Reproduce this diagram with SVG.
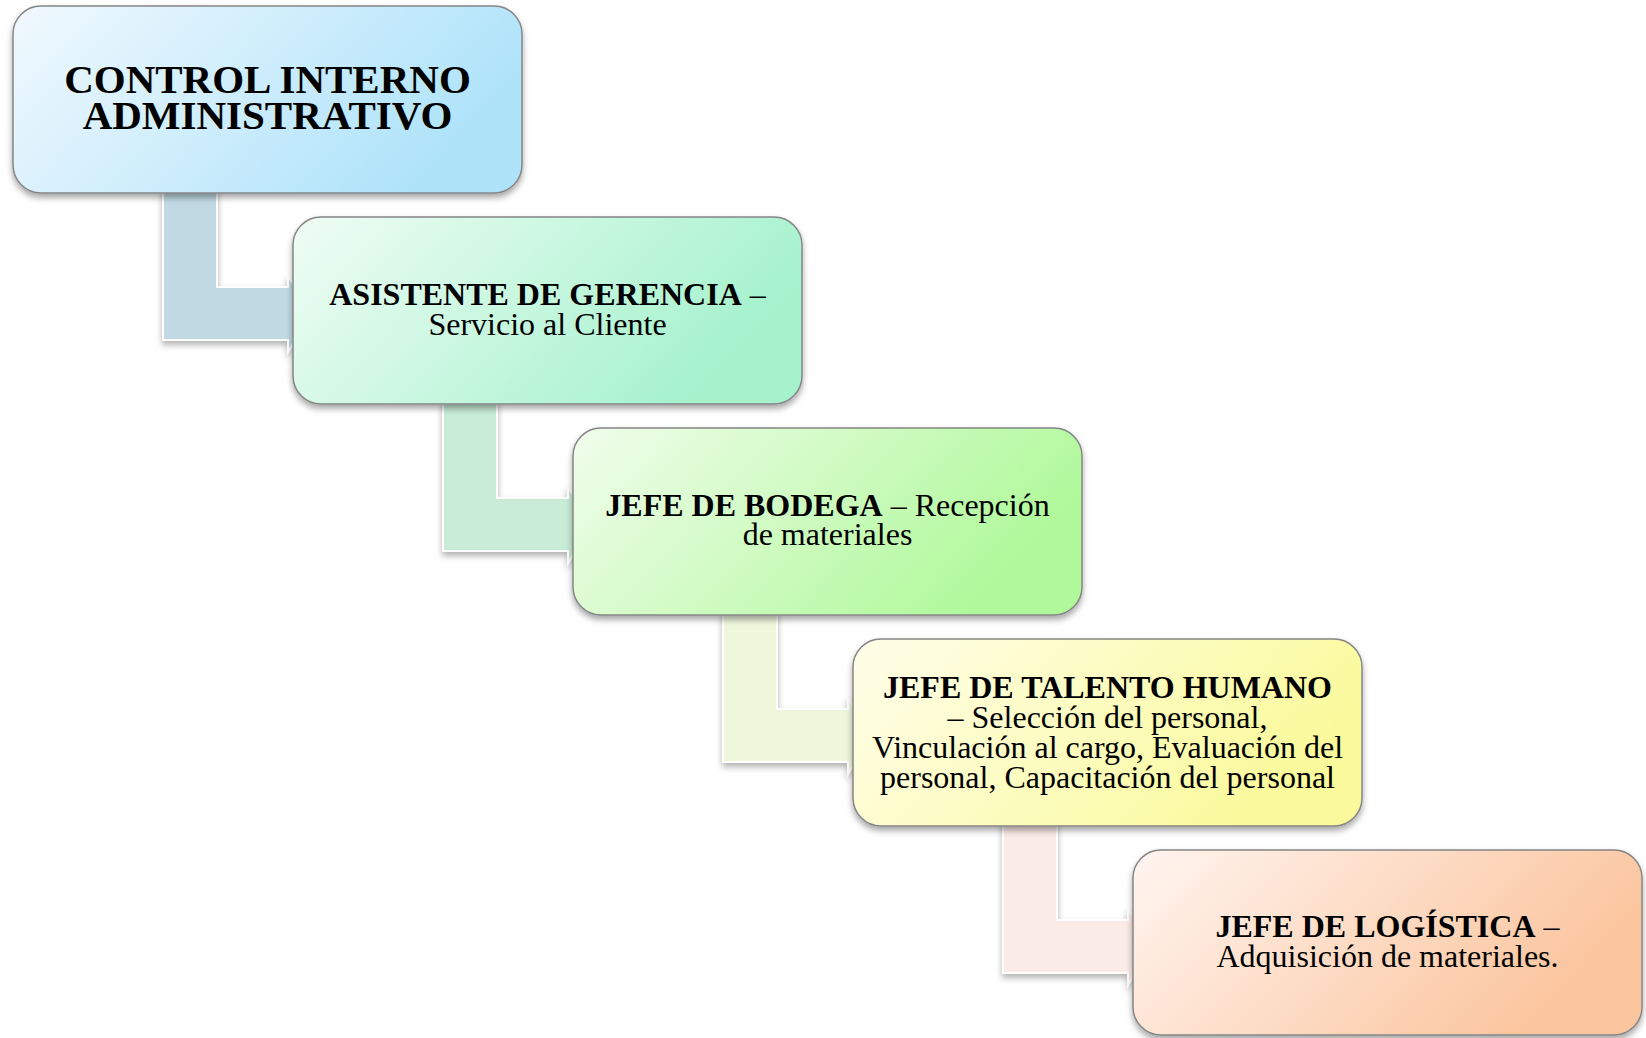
<svg xmlns="http://www.w3.org/2000/svg" width="1646" height="1038" viewBox="0 0 1646 1038">
<style>
.box{stroke:#858585;stroke-width:1.5;filter:url(#sh)}
.con{stroke:#ffffff;stroke-width:2;filter:url(#sh2)}
text{font-family:"Liberation Serif","Times New Roman",serif;fill:#000;text-anchor:middle}
.t{font-size:41px;font-weight:bold}
.l{font-size:32px}
.b{font-weight:bold}
</style>
<defs>
<filter id="sh" x="-10%" y="-10%" width="120%" height="130%">
<feDropShadow dx="0" dy="4" stdDeviation="3" flood-color="#000" flood-opacity="0.35"/>
</filter>
<filter id="sh2" x="-10%" y="-10%" width="130%" height="130%">
<feDropShadow dx="0" dy="4" stdDeviation="3" flood-color="#000" flood-opacity="0.3"/>
</filter>
<linearGradient id="g1" x1="0" y1="0" x2="1" y2="0.35"><stop offset="0" stop-color="#f1f9fe"/><stop offset="1" stop-color="#afe3fa"/></linearGradient>
<linearGradient id="g2" x1="0" y1="0" x2="1" y2="0.35"><stop offset="0" stop-color="#f0fdf5"/><stop offset="1" stop-color="#a5f2cd"/></linearGradient>
<linearGradient id="g3" x1="0" y1="0" x2="1" y2="0.35"><stop offset="0" stop-color="#f1fdec"/><stop offset="1" stop-color="#b0f99b"/></linearGradient>
<linearGradient id="g4" x1="0" y1="0" x2="1" y2="0.35"><stop offset="0" stop-color="#fffeea"/><stop offset="1" stop-color="#fafa9c"/></linearGradient>
<linearGradient id="g5" x1="0" y1="0" x2="1" y2="0.35"><stop offset="0" stop-color="#fff5f0"/><stop offset="1" stop-color="#fbc59e"/></linearGradient>
</defs>
<g id="connectors">
<path class="con" fill="#c1d9e3" d="M163,188 L217,188 L217,287 L288,287 L288,276 L312,313 L288,352 L288,340 L163,340 Z"/>
<path class="con" fill="#c8ecd6" d="M443,399 L497,399 L497,498 L568,498 L568,487 L592,524 L568,563 L568,551 L443,551 Z"/>
<path class="con" fill="#eef7dc" d="M723,610 L777,610 L777,709 L848,709 L848,698 L872,735 L848,774 L848,762 L723,762 Z"/>
<path class="con" fill="#fbebe6" d="M1003,821 L1057,821 L1057,920 L1128,920 L1128,909 L1152,946 L1128,985 L1128,973 L1003,973 Z"/>
</g>
<g id="node1">
<rect class="box" x="13" y="6" width="509" height="187" rx="28" fill="url(#g1)"/>
<text class="t" x="267.5" y="93">CONTROL INTERNO</text>
<text class="t" x="267.5" y="129">ADMINISTRATIVO</text>
</g>
<g id="node2">
<rect class="box" x="293" y="217" width="509" height="187" rx="28" fill="url(#g2)"/>
<text class="l" x="547.5" y="305"><tspan class="b">ASISTENTE DE GERENCIA</tspan> –</text>
<text class="l" x="547.5" y="335">Servicio al Cliente</text>
</g>
<g id="node3">
<rect class="box" x="573" y="428" width="509" height="187" rx="28" fill="url(#g3)"/>
<text class="l" x="827.5" y="516"><tspan class="b">JEFE DE BODEGA</tspan> – Recepción</text>
<text class="l" x="827.5" y="545">de materiales</text>
</g>
<g id="node4">
<rect class="box" x="853" y="639" width="509" height="187" rx="28" fill="url(#g4)"/>
<text class="l b" x="1107.5" y="698">JEFE DE TALENTO HUMANO</text>
<text class="l" x="1107.5" y="728">– Selección del personal,</text>
<text class="l" x="1107.5" y="758">Vinculación al cargo, Evaluación del</text>
<text class="l" x="1107.5" y="788">personal, Capacitación del personal</text>
</g>
<g id="node5">
<rect class="box" x="1133" y="850" width="509" height="185" rx="28" fill="url(#g5)"/>
<text class="l" x="1387.5" y="937"><tspan class="b">JEFE DE LOGÍSTICA</tspan> –</text>
<text class="l" x="1387.5" y="967">Adquisición de materiales.</text>
</g>
</svg>
